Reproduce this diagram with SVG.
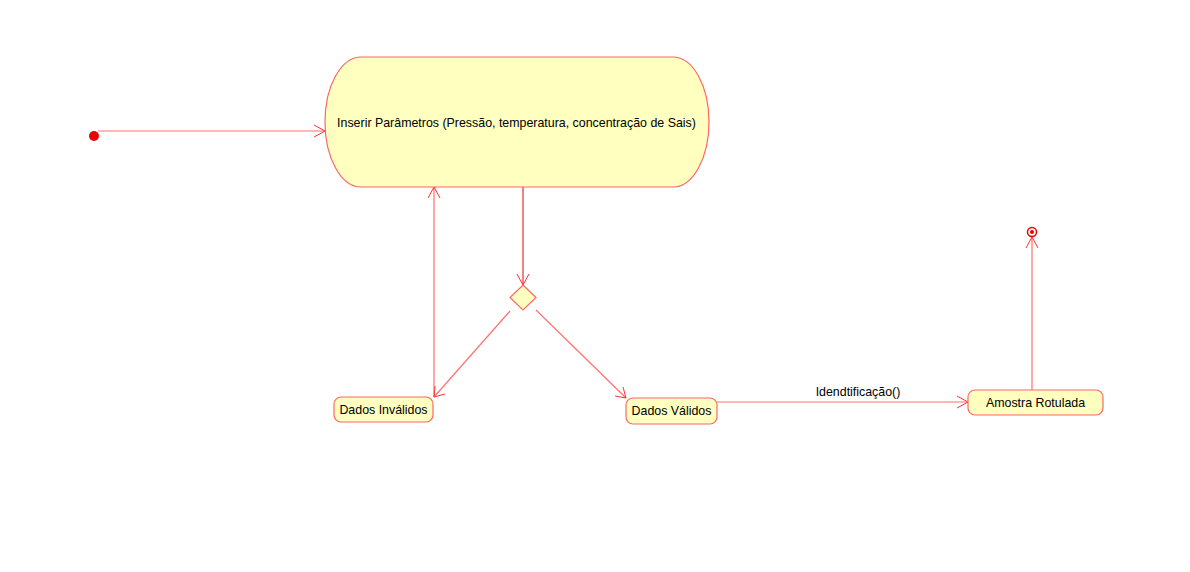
<svg xmlns="http://www.w3.org/2000/svg" width="1190" height="572" viewBox="0 0 1190 572">
<style>
.st{fill:#ffffc0;stroke:#ff6666;stroke-width:1.2}
.t{font-family:"Liberation Sans",Arial,sans-serif;font-size:12.4px;fill:#000}
.c{fill:none;stroke:#ff7070;stroke-width:1.2}
.cd{fill:none;stroke:#e8000f;stroke-width:1}
.ah{fill:none;stroke:#ff3030;stroke-width:1}
</style>
<rect width="1190" height="572" fill="#fff"/>
<g id="connectors">
  <line class="c" x1="98" y1="131" x2="325" y2="131"/>
  <polyline class="ah" points="314,125 325,131 314,137"/>
  <line class="cd" x1="523" y1="187" x2="523" y2="285"/>
  <polyline class="ah" points="517,274 523,285 529,274"/>
  <line class="c" x1="434" y1="397" x2="434" y2="187"/>
  <polyline class="ah" points="428,198 434,187 440,198"/>
  <line class="c" x1="510" y1="311" x2="434" y2="397"/>
  <polyline class="ah" points="435,386 434,397 445,394"/>
  <line class="c" x1="536" y1="310" x2="626" y2="398"/>
  <polyline class="ah" points="623,387 626,398 615,396"/>
  <line class="c" x1="717" y1="402" x2="968" y2="402"/>
  <polyline class="ah" points="957,396 968,402 957,408"/>
  <text class="t" x="858" y="396" text-anchor="middle">Idendtificação()</text>
  <line class="c" x1="1032" y1="390" x2="1032" y2="237"/>
  <polyline class="ah" points="1026,248 1032,237 1038,248"/>
</g>
<g id="initial">
  <circle cx="94" cy="136" r="5" fill="#ee0000"/>
</g>
<g id="inserir">
  <rect class="st" x="325" y="57" width="384" height="130" rx="36" ry="65"/>
  <text class="t" x="516.5" y="127" text-anchor="middle">Inserir Parâmetros (Pressão, temperatura, concentração de Sais)</text>
</g>
<g id="decision">
  <polygon class="st" points="523,285 536,297.5 523,310 510,297.5"/>
</g>
<g id="invalidos">
  <rect class="st" x="334" y="397" width="99" height="25" rx="7"/>
  <text class="t" x="383.5" y="414" text-anchor="middle">Dados Inválidos</text>
</g>
<g id="validos">
  <rect class="st" x="626" y="398" width="91" height="26" rx="7"/>
  <text class="t" x="671.5" y="415" text-anchor="middle">Dados Válidos</text>
</g>
<g id="amostra">
  <rect class="st" x="968" y="390" width="135" height="25" rx="7"/>
  <text class="t" x="1035.5" y="407" text-anchor="middle">Amostra Rotulada</text>
</g>
<g id="final">
  <circle cx="1032" cy="232" r="4.5" fill="#fff" stroke="#ee0000" stroke-width="1.5"/>
  <circle cx="1032" cy="232" r="2" fill="#ee0000"/>
</g>
</svg>
